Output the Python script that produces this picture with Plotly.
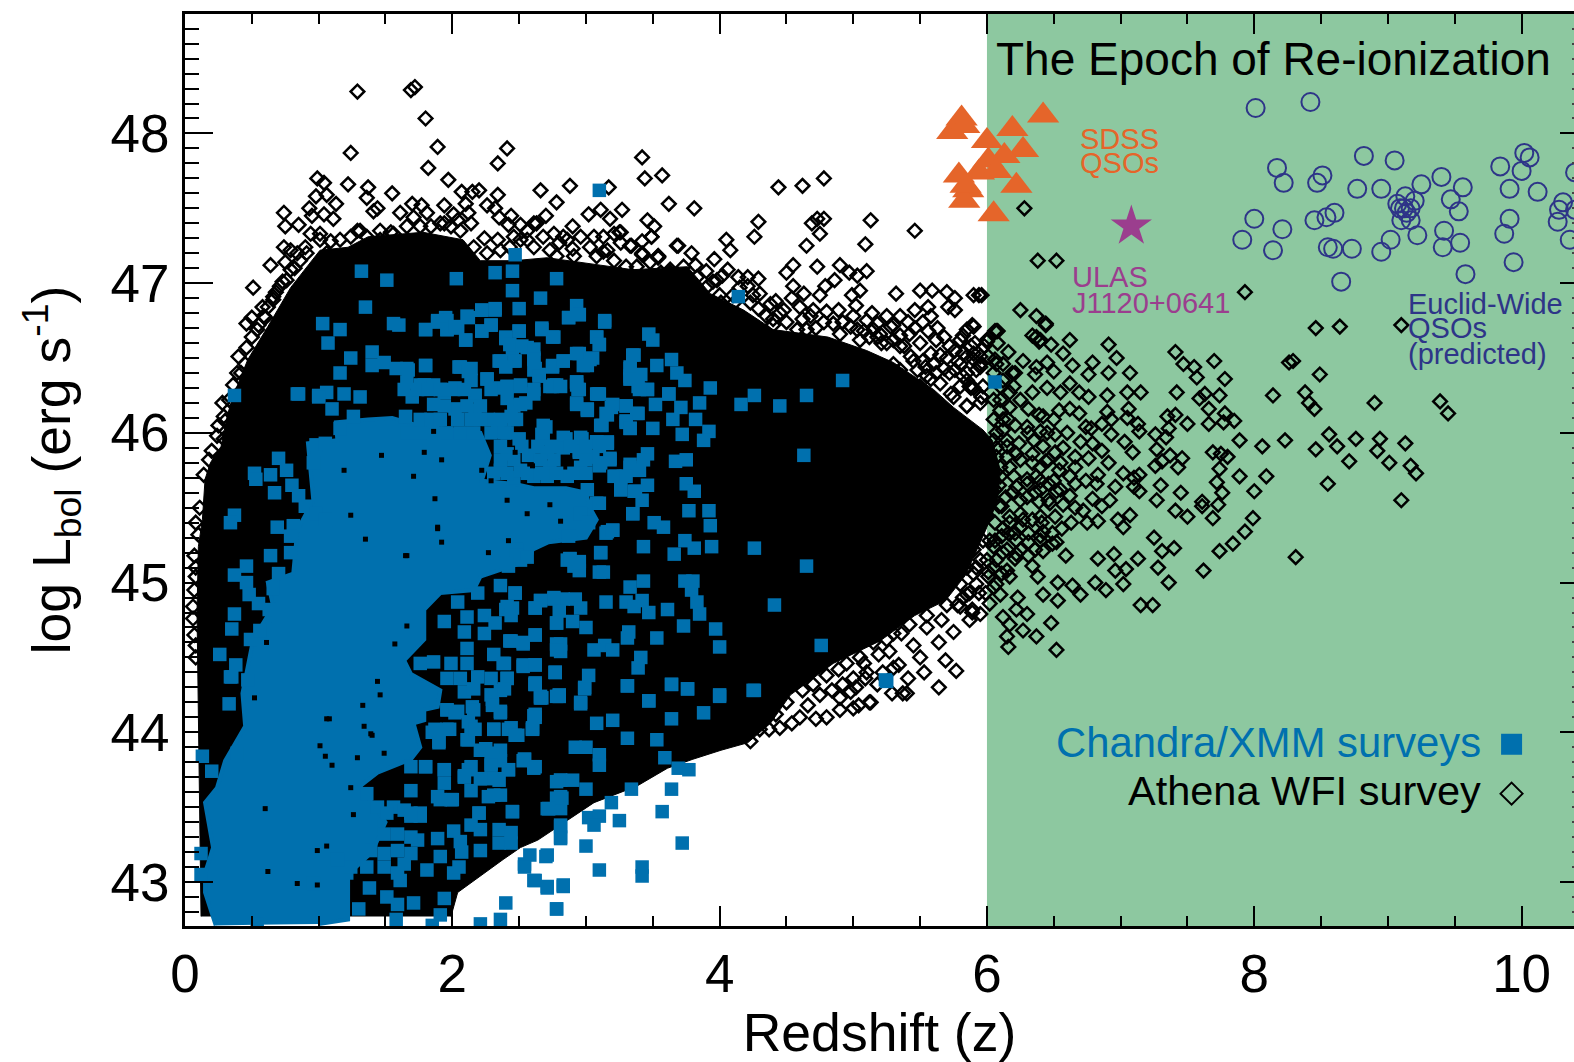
import plotly.graph_objects as go

FONT = "Liberation Sans"
BLUE = "#0070AE"
GREEN = "#8DC8A0"
ORANGE = "#E5652A"
PURPLE = "#9B3E8E"
NAVY = "#2E3588"

# outline of the saturated black part of the Athena WFI cloud (z, log L)
athena_core_z = [0.12,0.10,0.09,0.10,0.13,0.15,0.19,0.27,0.32,0.38,0.47,0.62,0.79,1.01,1.22,1.37,1.78,2.08,2.21,2.46,2.71,3.11,3.35,3.76,3.93,4.18,4.40,4.81,5.10,5.30,5.60,5.75,5.97,6.04,6.10,6.08,5.99,5.84,5.69,5.46,5.20,4.85,4.53,4.38,4.21,4.01,3.80,3.61,3.38,3.06,2.86,2.64,2.51,2.38,2.04,1.99]
athena_core_L = [42.77,44.35,44.80,45.24,45.42,45.69,45.80,45.91,46.13,46.29,46.49,46.71,46.97,47.22,47.24,47.31,47.34,47.29,47.15,47.15,47.17,47.12,47.09,47.11,46.93,46.82,46.69,46.64,46.55,46.47,46.29,46.17,46.02,45.95,45.75,45.55,45.35,45.05,44.88,44.78,44.61,44.46,44.25,44.06,43.93,43.88,43.82,43.76,43.64,43.53,43.41,43.28,43.23,43.15,42.93,42.77]

# outline of the area where Chandra/XMM squares merge
chandra_core_z = [0.23,0.15,0.15,0.21,0.15,0.24,0.30,0.45,0.43,0.51,0.66,0.62,0.81,0.84,0.96,0.92,1.14,1.13,1.37,1.55,1.74,2.21,2.28,2.22,2.46,2.61,2.85,3.00,3.03,3.08,3.00,2.72,2.60,2.58,2.21,2.16,1.91,1.79,1.79,1.64,1.69,1.91,1.89,1.79,1.79,1.71,1.76,1.69,1.44,1.31,1.50,1.40,1.22,1.22,1.00]
chandra_core_L = [42.71,42.93,43.06,43.23,43.53,43.63,43.81,44.04,44.26,44.62,44.84,45.00,45.06,45.35,45.55,45.93,45.95,46.07,46.09,46.10,46.05,46.00,45.85,45.68,45.66,45.63,45.63,45.60,45.50,45.42,45.30,45.27,45.22,45.15,45.04,44.95,44.93,44.82,44.62,44.48,44.39,44.28,44.17,44.15,44.08,44.06,43.90,43.82,43.73,43.64,43.40,43.20,43.05,42.75,42.72]

athena_points = [
(8.46,46.70),(8.64,46.71),(9.10,46.72),(7.41,46.54),(7.47,46.46),(7.55,46.44),(7.57,46.37),(7.70,46.48),(7.78,46.36),(8.26,46.47),(8.29,46.48),(8.49,46.39),(8.14,46.25),(8.38,46.27),(8.41,46.20),(8.45,46.16),(8.90,46.20),(9.39,46.21),(9.45,46.13),(7.42,46.27),(7.63,46.26),(7.59,46.23),(7.74,46.25),(7.66,46.16),(7.78,46.13),(7.77,46.07),(7.85,46.08),(7.66,46.06),(7.50,46.06),(7.41,46.12),(7.35,46.11),(7.36,46.03),(7.34,45.97),(7.26,45.99),(7.89,45.95),(8.06,45.91),(8.23,45.95),(8.46,45.89),(8.56,45.99),(8.62,45.91),(8.76,45.96),(8.94,45.96),(9.13,45.93),(8.92,45.88),(8.71,45.81),(9.01,45.80),(9.17,45.78),(9.21,45.73),(8.55,45.66),(9.10,45.55),(8.31,45.17),(8.09,45.71),(7.89,45.71),(8.00,45.61),(7.99,45.43),(7.93,45.34),(7.84,45.26),(7.74,45.21),(7.62,45.08),(7.36,45.00),(7.28,45.10),(7.40,45.23),(7.31,45.21),(7.25,45.30),(7.24,44.85),(7.15,44.85),(7.13,45.16),(7.02,44.99),(7.04,45.09),(6.96,45.08),(6.95,45.19),(6.83,45.16),(6.81,45.00),(6.89,44.95),(6.70,44.92),(6.64,44.98),(6.53,45.00),(6.53,44.88),(6.42,44.92),(6.38,45.04),(6.48,44.73),(6.52,44.55),(6.37,44.64),(6.27,44.68),(6.15,44.64),(6.16,44.57),(6.30,44.79),(6.22,44.82),(6.23,44.90),(6.12,44.77),(6.17,44.72),(6.02,44.86),(6.59,45.18),(7.07,45.45),(6.98,45.42),(7.02,45.37),(6.83,45.41),(6.75,45.40),(6.63,45.40),(6.56,45.36),(6.92,45.55),(6.86,45.51),(7.30,45.65),(7.45,45.60),(7.27,45.55),(7.41,45.48),(7.50,45.44),(7.69,45.43),(7.61,45.54),(7.61,45.51),(7.73,45.52),(7.76,45.60),(7.72,45.67),(7.74,45.76),(7.80,45.84),(7.75,45.86),(7.69,45.87),(7.46,45.83),(7.43,45.77),(7.37,45.85),(7.31,45.81),(7.26,45.78),(7.27,45.89),(7.09,45.87),(7.03,45.94),(6.93,45.99),(6.86,45.88),(6.79,45.93),(6.70,45.94),(6.91,45.80),(7.02,45.73),(7.14,45.72),(7.10,45.70),(6.96,45.64),(7.10,45.64),(7.14,45.61),(6.83,45.72),(6.82,45.66),(7.13,46.06),(7.14,46.01),(7.06,46.16),(7.05,46.10),(6.93,46.09),(6.86,46.06),(6.90,46.14),(6.74,46.04),(6.78,46.03),(7.15,46.27),(7.05,46.27),(6.90,46.25),(6.76,46.24),(6.91,46.40),(7.07,46.40),(6.97,46.50),(6.91,46.59),(6.79,46.47),(6.62,46.62),(6.48,46.59),(6.39,46.61),(6.34,46.65),(6.44,46.72),(6.57,46.53),(6.45,46.47),(6.27,46.48),(6.16,46.54),(6.64,46.45),(6.76,46.39),(6.62,46.33),(6.50,46.41),(6.45,46.30),(6.55,46.27),(6.69,46.27),(6.34,46.27),(6.62,46.16),(6.54,46.15),(6.42,46.11),(6.69,46.13),(6.45,46.00),(6.35,45.95),(6.34,45.86),(6.57,45.90),(6.66,45.84),(6.76,45.83),(6.55,45.80),(6.66,45.77),(6.46,45.66),(6.55,45.62),(6.62,45.58),(6.79,45.56),(6.72,45.48),(6.66,45.50),(6.57,45.52),(6.47,45.53),(6.39,45.54),(6.34,45.42),(6.41,45.40),(6.31,45.33),(6.42,45.34),(6.52,45.27),(6.42,45.21),(6.31,45.18),(6.21,45.16),(6.17,45.04),(6.10,44.92),(6.15,45.08),(6.22,45.28),(6.16,45.33),(6.25,45.46),(6.22,45.64),(6.30,45.69),(6.22,45.86),(6.31,46.00),(6.16,46.09),(6.21,46.40),(6.17,46.27),
(6.05,46.22),(6.10,46.15),(6.05,46.09),(6.12,46.02),(6.05,45.95),(6.15,45.91),(6.07,45.84),(6.17,45.77),(6.10,45.71),(6.06,45.62),(6.14,45.57),(6.09,45.51),(6.17,45.44),(6.06,45.40),(6.11,45.31),(6.05,45.24),(6.12,45.20),(6.05,45.10),(6.07,44.99),(5.99,44.93),(5.95,44.79),(5.87,44.75),(5.92,44.99),(6.40,45.77),(6.46,45.82),(6.37,45.71),(6.50,45.68),(6.40,45.62),(6.30,45.57),(6.25,45.37),(6.40,45.28),(6.49,45.33),(6.25,45.22),(6.34,45.11),(6.12,46.35),(6.20,46.31),(6.07,46.46),(6.00,46.62),(6.07,46.68),(5.85,46.69),(5.90,46.71),(5.82,46.53),(5.92,46.42),(5.87,46.31),(5.96,46.24),(5.85,46.18),(5.80,46.46),
(6.28,47.50),(6.38,47.15),(6.52,47.15),(7.93,46.94),(6.25,46.82),(6.37,46.78),(6.44,46.73),(5.96,46.92),(6.08,46.68),(6.00,46.61),(6.37,46.64),(6.40,46.62),
(1.29,48.28),(1.69,48.29),(1.72,48.31),(1.80,48.10),(1.89,47.91),(1.82,47.77),(1.24,47.87),(2.41,47.90),(2.34,47.80),(1.97,47.69),(1.22,47.66),(0.99,47.70),(1.04,47.67),(0.98,47.58),(1.06,47.59),(1.13,47.53),(0.93,47.50),(0.95,47.45),(1.04,47.46),(1.11,47.43),(0.74,47.47),(0.85,47.39),(0.75,47.38),(0.94,47.33),(1.37,47.64),(1.36,47.57),(1.55,47.60),(1.44,47.50),(1.41,47.48),(1.61,47.47),(1.70,47.53),(1.77,47.52),(1.81,47.47),(1.94,47.52),(2.07,47.61),(2.15,47.61),(2.20,47.62),(2.10,47.53),(2.12,47.47),(2.14,47.40),(2.01,47.46),(1.94,47.40),(2.34,47.59),(2.26,47.52),(2.32,47.50),(2.35,47.44),(2.44,47.45),(2.42,47.39),(2.66,47.62),(2.88,47.65),(2.78,47.54),(2.70,47.45),(2.61,47.40),(2.51,47.39),(3.17,47.64),(3.42,47.84),(3.44,47.70),(3.57,47.72),(3.62,47.53),(3.02,47.46),(3.11,47.49),(3.18,47.43),(3.27,47.49),(3.46,47.42),(3.51,47.38),(3.49,47.31),(3.42,47.28),(3.34,47.25),(3.68,47.25),(3.54,47.18),(3.42,47.20),(3.48,47.14),(3.25,47.34),(2.90,47.38),(2.76,47.33),(2.83,47.31),(3.06,47.31),(3.13,47.21),(3.30,47.11),(2.80,47.27),(2.90,47.23),(1.46,47.35),(1.31,47.35),(1.54,47.34),(1.16,47.29),(2.24,47.30),(2.34,47.29),(2.43,47.24),(2.56,47.29),(0.64,47.12),(0.51,46.97),(0.73,47.01),(0.74,47.24),(0.84,47.20),(0.79,47.22),(0.75,47.14),(0.58,46.84),(0.46,46.73),(0.50,46.77),(0.60,46.77),(0.66,46.89),(0.40,46.51),(0.39,46.40),(0.54,46.69),
(0.28,46.20),(0.29,46.11),(0.25,46.05),(0.29,45.96),(0.10,45.32),(0.08,45.04),(0.06,44.84),(0.06,44.76),(0.08,44.58),
(3.81,47.50),(4.44,47.64),(4.62,47.65),(4.78,47.70),(4.29,47.41),(4.26,47.31),(5.13,47.42),(5.09,47.26),(5.46,47.35),(4.73,47.43),(4.69,47.40),(4.78,47.43),(4.75,47.33),(4.65,47.25),(4.05,47.29),(4.08,47.22),(3.69,47.25),(3.79,47.20),(3.54,47.18),(3.49,47.31),(3.96,47.16),(4.06,47.09),(3.95,47.01),(4.00,46.92),(4.21,47.04),(4.29,47.03),(4.14,47.04),(4.73,47.11),(4.55,47.12),(4.50,47.07),(4.90,47.12),(4.97,47.07),(5.10,47.08),(5.03,47.05),(4.86,47.02),(4.79,46.98),(4.55,46.98),(4.63,46.93),(4.54,46.90),(4.75,46.92),(5.05,46.95),(4.99,46.92),(5.32,46.93),(5.50,46.95),(5.59,46.95),(5.70,46.94),(5.76,46.90),(5.90,46.92),(5.94,46.92),(5.71,46.84),(5.76,46.82),(5.46,46.82),(5.56,46.84),(5.58,46.78),(4.42,46.88),(4.30,46.93),(4.29,46.83),(4.40,46.76),(4.80,46.81),(4.89,46.82),(5.02,46.85),(5.14,46.80),(5.25,46.78),(5.35,46.78),(5.41,46.74),(5.28,46.71),(5.10,46.75),(4.98,46.71),(5.63,46.70),(5.56,46.68),(5.68,46.64),(5.89,46.72),(5.82,46.65),(6.00,46.62),(6.06,46.68),(5.35,46.65),(5.50,46.60),(5.21,46.60),(5.76,46.55),(5.70,46.50),(5.58,46.53),(5.88,46.58),(5.95,46.44),(5.85,46.51),(5.68,46.43),(5.54,46.44),(5.76,46.42),(5.35,46.42),(5.58,46.36),(5.96,46.24),(5.85,46.18),(5.88,46.30),(5.73,46.26),(6.06,46.49),
(5.29,44.26),(5.12,44.20),(5.27,44.54),(5.19,44.52),(5.08,44.46),(5.00,44.36),(4.89,44.42),(5.09,44.36),(5.18,44.32),(4.98,44.27),(4.84,44.28),(4.75,44.25),(4.90,44.23),(5.04,44.18),(5.40,44.26),(5.13,44.20),(5.00,44.16),(4.90,44.15),(4.80,44.10),(4.72,44.09),(4.54,44.06),(4.45,44.03),(4.37,44.02),(4.23,43.94),
(5.77,44.41),(5.69,44.48),(5.53,44.40),(5.64,44.30),(5.41,44.36),(5.37,44.26),(5.50,44.50),(5.30,44.43),(5.89,44.80),(5.75,44.67),(5.64,44.60),(5.94,44.93),(6.01,45.07),
]

# dense fringe just outside the black outline
athena_fringe = [
(1.01,47.29),(1.09,47.28),(1.24,47.31),(1.29,47.35),(1.36,47.31),(1.46,47.29),(1.56,47.33),(1.66,47.38),(1.71,47.44),(1.76,47.38),(1.84,47.38),(1.91,47.40),(1.99,47.38),(2.06,47.35),(2.04,47.42),(2.16,47.24),(2.26,47.20),(2.36,47.22),(2.46,47.31),(2.56,47.35),(2.51,47.29),(2.63,47.40),(2.68,47.31),(2.61,47.24),(2.73,47.22),(2.78,47.18),(2.86,47.29),(2.96,47.31),(2.91,47.18),(3.03,47.24),(3.13,47.31),(3.08,47.18),(3.21,47.15),(3.26,47.27),(3.38,47.11),(3.56,47.07),(3.63,47.07),(3.68,47.02),(3.46,46.95),(3.53,46.95),(1.01,47.33),(1.06,47.20),(0.91,47.20),(0.86,47.15),(0.79,47.09),(0.71,46.98),(0.76,47.02),(0.66,46.91),(0.59,46.78),(0.50,46.64),(0.46,46.57),
(3.21,47.33),(3.26,47.34),(3.16,47.22),(3.33,47.25),(3.42,47.19),(3.54,47.17),(3.63,47.09),(3.73,47.11),(3.82,47.12),(3.83,47.04),(3.73,47.02),(3.91,46.98),(3.88,46.89),(4.01,46.87),(4.11,46.87),(4.21,46.98),(4.23,46.87),(4.35,46.78),(4.48,46.82),(4.58,46.69),(4.65,46.69),(4.70,46.82),(4.85,46.73),(4.90,46.66),(5.03,46.69),(5.15,46.69),(5.18,46.73),(5.25,46.60),(5.35,46.58),(5.43,46.51),(5.30,46.46),(5.48,46.42),(5.65,46.33),(5.50,46.31),(5.85,46.35),(5.75,46.24),(5.98,46.58),(5.95,46.51),(5.90,46.49),(6.08,46.60),
(4.92,44.32),(5.02,44.30),(5.10,44.40),(5.22,44.40),(5.34,44.45),(5.25,44.62),(5.36,44.66),(5.45,44.58),(5.55,44.70),(5.66,44.75),(5.78,44.85),(5.85,44.92),(5.92,45.10),(6.00,45.15),(6.02,45.28),(6.00,45.45),
(6.10,46.22),(6.17,46.17),(6.25,46.22),(6.31,46.16),(6.39,46.12),(6.50,46.09),(6.12,46.09),(6.21,46.05),(6.30,46.04),(6.40,46.01),(6.51,45.99),(6.60,46.00),(6.07,46.00),(6.15,45.95),(6.24,45.93),(6.42,45.91),(6.51,45.87),(6.07,45.90),(6.15,45.84),(6.25,45.82),(6.34,45.80),(6.44,45.81),(6.54,45.75),(6.62,45.71),(6.10,45.77),(6.20,45.71),(6.30,45.66),(6.40,45.68),(6.66,45.66),(6.74,45.68),(6.09,45.65),(6.19,45.60),(6.25,45.55),(6.36,45.60),(6.46,45.55),(6.52,45.61),(6.11,45.51),(6.17,45.40),(6.27,45.42),(6.40,45.44),(6.51,45.44),(6.12,45.36),(6.21,45.33),(6.31,45.27),(6.40,45.31),(6.49,45.26),(6.06,45.28),(6.15,45.22),(6.22,45.19),(6.36,45.22),(6.07,45.15),(6.01,45.04),(6.11,45.06),(6.05,44.97),
(5.95,45.15),(5.90,45.06),(5.97,45.28),(5.90,45.22),(5.85,45.10),(5.80,44.99),(5.87,44.93),(5.80,44.84),(5.89,44.82),
(6.01,46.51),(6.12,46.46),(6.19,46.40),(6.05,46.40),(6.10,46.31),(6.37,46.44),(6.36,46.39),(5.90,46.53),(5.95,46.46),(5.85,46.40),(5.97,46.31),(5.80,46.31),(5.91,46.60),
(4.40,46.72),(4.50,46.74),(4.62,46.76),(4.72,46.70),(4.78,46.74),(4.92,46.74),(5.00,46.78),(5.08,46.68),(5.12,46.64),(5.20,46.66),(5.30,46.62),(5.38,46.58),(5.45,46.48),(5.52,46.48),(5.60,46.46),(5.65,46.52),(5.72,46.40),(5.78,46.48),(5.82,46.38),(5.90,46.30),(5.95,46.20),(5.62,46.40),(5.55,46.38),(5.46,46.70),(5.52,46.74),(5.62,46.62),(5.72,46.58),(5.80,46.62),(5.30,46.72),(5.42,46.66),(5.18,46.64),(5.05,46.62),(4.60,46.84),(4.68,46.78),(4.45,46.80),(4.38,46.86),(4.25,46.92),(4.15,46.97),(4.10,46.92),(3.98,47.02),(4.02,47.05),(3.90,47.08),
(0.42,46.40),(0.45,46.46),(0.36,46.32),(0.33,46.22),(0.30,46.08),(0.24,45.98),(0.20,45.88),(0.18,45.82),(0.14,45.72),(0.11,45.50),(0.08,45.40),(0.07,45.18),(0.08,45.10),(0.07,44.95),(0.07,44.65),(0.08,44.50),(0.55,46.72),(0.68,46.94),(0.82,47.10),(0.90,47.24),(0.62,46.84),
(4.30,44.02),(4.42,44.12),(4.50,44.20),(4.62,44.28),(4.70,44.32),(4.80,44.38),(4.95,44.46),(5.05,44.50),(5.15,44.60),(5.30,44.66),(5.42,44.72),(5.55,44.78),(5.70,44.85),(5.82,44.90),(4.60,44.10),(4.66,44.18),
]

chandra_points = [
(4.92,46.35),(4.65,46.25),(4.45,46.18),(4.26,46.25),(4.16,46.19),(3.93,46.30),(3.62,46.26),(3.74,46.35),(3.46,46.29),(3.39,46.31),(3.33,46.38),(3.10,46.26),(2.95,46.29),(2.93,46.34),(2.78,46.32),(2.73,46.31),(3.85,46.20),(3.52,46.19),(3.30,46.18),(3.20,46.19),(3.15,46.13),(2.93,46.20),(3.01,46.15),(3.71,46.17),(3.39,46.13),(3.65,46.09),(3.82,46.09),(3.30,46.08),(3.33,46.03),(3.50,46.03),(3.11,46.05),(3.72,45.99),(3.92,46.01),(3.88,45.95),(2.68,46.05),(2.67,45.99),(2.85,45.96),(2.96,45.97),(3.08,45.94),(3.16,45.94),(2.95,45.87),(3.05,45.84),(3.11,45.80),(3.18,45.83),(3.46,45.86),(3.33,45.79),(3.43,45.82),(3.40,45.75),(3.67,45.81),(3.75,45.82),(3.21,45.71),(3.28,45.71),(4.63,45.85),(3.75,45.66),(3.81,45.61),(3.46,45.65),(3.37,45.61),(3.42,45.55),(3.26,45.62),(3.77,45.48),(3.92,45.48),(3.93,45.38),(3.35,45.46),(3.51,45.40),(3.58,45.37),(3.20,45.35),(3.15,45.33),(3.08,45.53),(3.01,45.62),(2.96,45.46),(3.02,45.40),(2.87,45.31),(3.74,45.28),(3.81,45.23),(3.94,45.24),(3.66,45.19),(3.43,45.24),(4.26,45.23),(4.65,45.11),(3.11,45.20),(2.88,45.16),(2.95,45.08),(2.95,45.14),(3.10,45.07),(3.13,45.07),(3.43,45.01),(3.33,44.97),(3.74,45.01),(3.80,45.01),(3.79,44.95),(3.83,44.87),(3.85,44.79),(3.42,44.88),(3.30,44.87),(3.36,44.84),(3.47,44.80),(3.61,44.82),(4.41,44.85),(3.15,44.87),(2.92,44.89),(2.83,44.89),(2.76,44.89),(2.66,44.88),(2.62,44.83),(2.96,44.83),(2.80,44.81),(2.78,44.73),(2.90,44.74),(3.00,44.70),(3.73,44.71),(3.97,44.69),(3.32,44.67),(3.31,44.63),(3.53,44.63),(4.00,44.57),(4.76,44.58),(2.62,44.65),(2.43,44.61),(2.53,44.59),(2.81,44.59),(2.81,44.54),(3.14,44.58),(3.06,44.55),(3.20,44.55),(3.41,44.50),(3.39,44.43),(2.53,44.45),(2.62,44.45),(2.77,44.40),(2.38,44.46),(3.02,44.38),(2.41,44.36),(2.62,44.32),(2.99,44.30),(3.31,44.31),(3.64,44.32),(3.76,44.29),(4.26,44.28),(4.00,44.24),(2.80,44.24),(2.66,44.23),(3.47,44.21),(2.96,44.20),(5.25,44.34),(2.36,44.28),
(2.48,45.22),(2.51,45.15),(2.42,45.11),(2.47,44.93),(2.40,44.82),(2.45,44.83),(2.41,46.31),(2.51,46.31),(2.61,46.29),(2.65,46.39),(2.46,46.18),(2.55,46.20),(2.48,46.09),(2.41,46.00),
(3.10,47.62),(2.47,47.19),(1.32,47.08),(1.51,47.02),(2.03,47.03),(2.32,47.07),(2.45,47.08),(2.78,47.03),(2.45,46.95),(2.66,46.90),(2.50,46.83),(2.93,46.85),(2.95,46.79),(2.87,46.77),(3.14,46.74),(1.35,46.84),(2.32,46.83),(2.22,46.82),(2.12,46.77),(1.95,46.77),(1.89,46.74),(1.80,46.69),(1.96,46.69),(2.04,46.70),(2.29,46.72),(2.22,46.68),(1.03,46.73),(1.16,46.69),(1.56,46.73),(1.60,46.72),(1.07,46.60),(2.10,46.62),(2.50,46.68),(2.67,46.69),(2.75,46.64),(3.08,46.64),(3.10,46.59),(3.47,46.66),(3.50,46.62),(2.40,46.64),(2.45,46.56),(2.56,46.57),(2.93,46.53),(1.24,46.50),(1.40,46.54),(1.40,46.45),(1.49,46.47),(1.58,46.43),(1.80,46.45),(1.16,46.40),(2.46,46.48),(2.35,46.48),(2.61,46.50),(2.62,46.43),(2.75,46.45),(2.83,46.48),(3.01,46.45),(3.05,46.50),(2.06,46.44),(2.14,46.43),(1.66,46.43),(3.36,46.52),(3.33,46.43),(3.33,46.36),(3.41,46.39),(3.53,46.45),(3.64,46.49),(3.68,46.40),(0.37,46.25),(0.85,46.26),(1.00,46.25),(1.06,46.27),(1.19,46.26),(1.31,46.24),(2.65,46.38),(2.76,46.32),(2.93,46.32),(3.08,46.26),(3.46,46.29),(3.62,46.26),(2.17,46.25),(2.26,46.36),(2.36,46.30),(1.91,46.29),(1.76,46.32),
(4.14,46.91),(6.06,46.34),
(0.37,45.45),(0.34,45.40),(0.52,45.73),(0.53,45.69),(0.70,45.83),(0.76,45.75),(0.64,45.72),(0.67,45.60),(0.80,45.65),(0.85,45.58),(0.90,45.51),(0.98,45.46),(1.05,45.42),(0.96,45.80),(0.69,45.37),(0.81,45.38),(0.79,45.31),(0.64,45.18),(0.79,45.20),(0.46,45.11),(0.37,45.05),(0.46,45.00),(0.48,44.92),(0.55,44.86),(0.63,44.82),(0.70,45.06),(0.66,44.96),(0.70,44.78),(0.37,44.79),(0.35,44.69),(0.26,44.52),(0.38,44.45),(0.34,44.37),(0.49,44.62),(0.56,44.68),(0.98,45.92),(1.05,45.93),(1.26,46.11),(1.16,46.03),(1.10,46.16),(1.00,46.24),(0.84,46.26),
(2.86,45.15),(2.91,45.11),(2.48,45.18),(2.41,45.13),(2.56,45.17),
(2.77,44.40),(2.62,44.33),(2.67,44.23),(2.80,44.24),(2.62,44.12),(2.60,44.02),(2.15,44.17),(2.36,44.14),(2.30,44.22),(1.96,44.15),(2.04,44.14),(2.14,44.04),(1.85,44.00),(1.98,44.02),(1.90,43.94),(2.31,44.02),(2.44,44.03),(2.49,43.98),(2.11,43.95),(2.25,43.89),(2.36,43.88),(1.80,43.77),(1.94,43.75),(1.69,43.77),(2.12,43.75),(2.42,43.75),(2.54,43.82),(2.62,43.77),(2.29,43.79),(2.09,43.70),(2.24,43.69),(2.35,43.68),(2.81,43.68),(2.82,43.56),(2.71,43.49),(2.45,43.47),(2.20,43.46),(2.14,43.38),(1.89,43.57),(2.00,43.55),(2.31,43.58),(1.76,43.44),(1.74,43.28),(1.89,43.29),(2.01,43.34),(2.06,43.27),(2.21,43.35),(2.21,43.21),(2.35,43.35),(2.44,43.33),(2.35,43.26),(2.44,43.26),(2.81,43.37),(2.81,43.30),(2.07,43.20),(1.91,43.17),(1.81,43.08),(2.01,43.06),(2.05,43.10),(1.64,43.12),(1.61,43.01),(1.38,42.96),(1.51,42.90),(1.59,42.85),(1.71,42.86),(1.58,42.75),(1.30,42.82),(1.94,42.89),(1.91,42.78),(2.40,42.86),(2.78,42.82),(2.54,43.12),(2.70,43.17),(2.61,43.01),(2.71,42.97),(2.83,42.97),(2.21,42.72),(2.36,42.75),(1.85,42.71),(0.13,43.84),(0.12,43.19),(0.12,43.05),(0.20,43.74),(0.39,43.86),(0.33,44.19),(0.35,44.37),(0.47,44.35),(0.54,42.72),
(2.62,44.32),(2.66,44.24),(2.80,44.25),(2.99,44.29),(2.96,44.19),(3.31,44.31),(3.47,44.21),(3.64,44.32),(3.76,44.29),(4.00,44.25),(4.25,44.28),(5.24,44.35),(3.88,44.13),(3.64,44.09),(3.20,44.08),(3.08,44.06),(2.61,44.11),(2.60,44.02),(3.31,43.96),(3.53,43.95),(2.92,43.90),(3.00,43.90),(3.10,43.85),(3.10,43.78),(3.59,43.83),(2.54,43.82),(2.61,43.77),(3.69,43.76),(3.77,43.75),(2.81,43.68),(2.90,43.68),(3.00,43.62),(3.34,43.62),(3.64,43.62),(2.81,43.57),(2.81,43.49),(2.72,43.49),(3.19,43.53),(3.57,43.47),(3.02,43.43),(3.10,43.44),(3.06,43.38),(3.25,43.41),(2.81,43.38),(2.81,43.29),(3.00,43.24),(3.72,43.26),(2.58,43.18),(2.71,43.18),(2.54,43.10),(3.10,43.08),(3.42,43.10),(3.42,43.04),(2.62,43.01),(2.71,42.96),(2.83,42.98),(2.78,42.82),
]

chandra_upper = [
(1.80,46.69),(1.89,46.75),(1.96,46.75),(1.96,46.69),(2.02,46.71),(2.11,46.78),(2.10,46.62),(2.22,46.68),(2.29,46.72),(2.22,46.82),(2.32,46.82),(2.50,46.68),(2.40,46.63),(2.67,46.70),(2.76,46.64),(2.87,46.77),(2.95,46.79),(3.14,46.75),(3.08,46.64),(3.10,46.59),(2.95,46.53),(3.03,46.49),(2.98,46.45),(2.43,46.59),(2.52,46.58),(2.61,46.56),(2.61,46.49),(2.61,46.42),(2.65,46.38),(2.47,46.48),(2.36,46.48),(2.40,46.44),(2.75,46.44),(2.83,46.48),
(1.80,46.45),(1.67,46.42),(2.05,46.44),(2.12,46.41),(2.14,46.35),(2.26,46.36),(2.29,46.29),(2.41,46.31),(2.51,46.32),(2.61,46.26),(2.75,46.31),(2.81,46.31),(2.93,46.34),(2.94,46.29),(3.09,46.26),(2.93,46.19),(3.01,46.16),(3.19,46.17),(3.16,46.12),(3.12,46.05),(3.30,46.18),(3.38,46.13),(3.30,46.07),(3.33,46.03),(3.35,46.52),(3.33,46.44),(3.33,46.36),(3.40,46.29),
(1.66,46.34),(1.79,46.32),(1.86,46.32),(1.94,46.27),(2.02,46.30),(1.70,46.24),(1.86,46.19),(2.17,46.25),(2.02,46.16),(2.17,46.15),(1.65,46.11),(2.41,46.23),(2.51,46.19),(2.27,46.09),(2.44,46.11),(2.34,46.01),(2.70,46.04),(2.68,45.96),(2.83,45.97),(2.83,45.90),(2.50,45.96),(2.97,45.96),(3.16,45.93),(3.08,45.94),(2.57,45.85),(2.41,45.86),(2.71,45.87),(2.95,45.88),(3.05,45.84),(3.18,45.82),(3.10,45.78),(3.33,45.77),(3.38,45.75),(3.22,45.71),(3.30,45.71),(3.26,45.62),(3.36,45.61),(3.10,45.53),(3.35,45.46),(3.16,45.34),(3.20,45.35),(3.11,45.20),(2.88,45.16),(2.95,45.13),
(2.73,45.77),(2.96,45.77),(2.61,45.71),(2.36,45.75),(2.46,45.70),(2.86,45.71),(2.51,45.75),(2.71,45.71),
(1.64,46.29),(1.74,46.29),(1.82,46.29),(1.91,46.29),(2.01,46.29),(2.09,46.29),(1.94,46.18),(2.11,46.18),(2.21,46.18),(1.76,46.09),(1.84,46.09),(1.91,46.09),(2.04,46.09),(2.14,46.09),(2.21,46.09),(2.36,46.09),(2.46,46.09),(1.66,46.00),(1.76,46.00),(1.96,46.00),(2.06,46.00),(2.16,46.00),(2.29,46.00),(2.39,46.00),(2.36,45.91),(2.52,45.91),(2.64,45.91),(2.74,45.91),(2.88,45.91),(3.00,45.91),(3.10,45.91),(2.36,45.82),(2.46,45.82),(2.66,45.82),(2.76,45.82),(3.00,45.82),(2.31,45.73),(2.41,45.73),(2.56,45.73),(2.66,45.73),(2.78,45.73),(2.91,45.73),(3.00,45.73),
]

chandra_lower = [
(2.04,44.87),(2.19,44.93),(2.36,44.98),(2.47,44.93),(2.66,44.88),(2.62,44.83),(2.76,44.90),(1.94,44.74),(2.11,44.77),(2.24,44.78),(2.32,44.73),(2.41,44.84),(2.44,44.78),(2.09,44.67),(2.24,44.66),(2.44,44.61),(2.53,44.60),(2.62,44.65),(2.78,44.73),(2.11,44.56),(2.31,44.52),(2.39,44.46),(2.53,44.44),(2.62,44.45),(2.78,44.59),(2.78,44.55),(2.77,44.40),(1.76,44.46),(1.86,44.47),(1.99,44.46),(2.11,44.46),(1.96,44.36),(2.06,44.36),(2.19,44.37),(2.29,44.36),(2.41,44.36),(2.09,44.27),(2.16,44.29),(2.29,44.25),(2.39,44.29),(2.62,44.32),(2.66,44.23),(2.78,44.24),(2.30,44.18),(2.36,44.13),(1.96,44.15),(2.02,44.13),(2.16,44.15),(2.12,44.07),(2.62,44.10),(2.60,44.03),(1.87,44.02),(1.96,44.02),(1.90,43.93),(2.12,43.95),(2.17,44.02),(2.31,44.02),(2.42,44.02),(2.47,43.98),(2.21,43.88),(2.30,43.86),(2.36,43.81),(2.53,43.81),(2.61,43.76),(1.80,43.77),(1.94,43.75),(2.14,43.77),(2.09,43.71),(2.29,43.78),(2.42,43.75),(2.21,43.69),(2.34,43.69),(2.14,43.61),(2.27,43.57),(2.36,43.58),(2.78,43.67),(2.78,43.56),(2.72,43.49),(1.91,43.55),(1.99,43.55),(1.94,43.66),(1.69,43.61),(1.56,43.50),(1.69,43.46),(1.76,43.46),(2.20,43.46),(2.45,43.47),
(1.36,43.59),(1.44,43.50),(1.51,43.46),(1.64,43.48),(1.69,43.44),(1.39,43.37),(1.49,43.32),(1.59,43.32),(1.69,43.30),(1.39,43.21),(1.49,43.19),(1.59,43.21),(1.69,43.19),(1.36,43.10),(1.49,43.10),(1.59,43.06),(1.21,43.06),(1.01,43.06),(1.24,43.10),(1.14,43.15),(0.96,42.99),
]

# little black gaps left between the merged squares
chandra_gaps = [
(1.66,44.71),(1.57,44.59),(1.44,44.34),(1.46,44.25),(1.33,44.18),(1.08,44.09),(1.34,44.04),(1.40,43.98),(1.01,43.91),(1.05,43.84),(1.29,43.83),(1.10,43.78),(1.49,43.86),
(1.86,46.01),(1.79,45.87),(1.92,45.82),(1.71,45.71),(1.87,45.56),(1.89,45.37),(1.92,45.27),(1.66,45.18),(2.27,45.20),(2.42,45.28),(2.56,45.46),(2.81,45.41),(2.73,45.52),(2.41,45.55),(2.29,45.68),(2.22,45.75),(2.60,45.78),(2.47,45.87),
(1.35,45.29),(1.65,45.18),(1.89,45.36),(1.24,45.45),(1.47,45.85),(1.19,45.75),(0.61,44.60),
(0.52,44.23),(0.60,43.49),(0.62,43.07),(0.84,42.99),(1.24,43.63),(1.26,43.45),(0.99,43.21),(1.06,43.24),(1.54,43.39),(1.39,43.99),(1.06,44.09),(0.99,42.98),
]

sdss_points = [(5.81,48.10),(5.74,48.01),(5.83,48.05),(6.00,47.95),(6.19,48.03),(6.42,48.12),(6.27,47.89),(6.13,47.85),(5.79,47.72),(6.01,47.82),(5.94,47.74),(6.07,47.75),(6.22,47.65),(5.86,47.62),(5.83,47.55),(5.84,47.65),(6.05,47.46)]

euclid_points = [(8.01,48.17),(8.42,48.21),(8.82,47.85),(9.05,47.82),(8.17,47.77),(8.22,47.67),(8.51,47.72),(8.47,47.67),(8.77,47.63),(8.95,47.63),(9.25,47.66),(9.40,47.71),(9.56,47.64),(9.47,47.56),(9.53,47.48),(9.84,47.78),(10.02,47.87),(10.06,47.84),(10.00,47.75),(9.91,47.63),(10.12,47.61),(9.91,47.43),(9.87,47.33),(9.94,47.14),(9.58,47.06),(9.54,47.27),(9.42,47.35),(9.41,47.24),(9.22,47.32),(9.02,47.29),(8.95,47.21),(8.73,47.23),(8.59,47.23),(8.55,47.24),(8.65,47.01),(8.00,47.43),(8.21,47.36),(8.14,47.22),(7.91,47.29),(8.45,47.42),(8.54,47.44),(8.60,47.47),(9.13,47.58),(9.20,47.55),(9.07,47.53),(9.12,47.50),(9.09,47.50),(9.17,47.50),(9.10,47.42),(9.17,47.42),(9.14,47.47),(10.31,47.54),(10.28,47.49),(10.27,47.41),(10.36,47.29),(10.40,47.74),(10.40,47.49)]

ulas_z, ulas_L = [7.08], [47.38]
x_range = [0, 10.392]
y_range = [42.706, 48.798]
x_ticks = [0, 2, 4, 6, 8, 10]
y_ticks = [43, 44, 45, 46, 47, 48]
epoch_start = 6.0

def xs(points): return [p[0] for p in points]
def ys(points): return [p[1] for p in points]

all_diamonds = athena_points + athena_fringe
all_squares = chandra_points + chandra_upper + chandra_lower

fig = go.Figure()
fig.add_trace(go.Scatter(x=athena_core_z, y=athena_core_L, mode="lines", fill="toself",
                         fillcolor="black", line=dict(color="black", width=1), hoverinfo="skip"))
fig.add_trace(go.Scatter(x=xs(all_diamonds), y=ys(all_diamonds), mode="markers",
                         marker=dict(symbol="diamond-open", size=10.5, color="black", line=dict(width=2.5, color="black"))))
fig.add_trace(go.Scatter(x=chandra_core_z, y=chandra_core_L, mode="lines", fill="toself",
                         fillcolor=BLUE, line=dict(color=BLUE, width=4), hoverinfo="skip"))
fig.add_trace(go.Scatter(x=xs(all_squares), y=ys(all_squares), mode="markers",
                         marker=dict(symbol="square", size=13.5, color=BLUE, line=dict(width=0))))
fig.add_trace(go.Scatter(x=xs(chandra_gaps), y=ys(chandra_gaps), mode="markers", hoverinfo="skip",
                         marker=dict(symbol="square", size=5, color="black", line=dict(width=0))))
fig.add_trace(go.Scatter(x=xs(sdss_points), y=ys(sdss_points), mode="markers",
                         marker=dict(symbol="triangle-up", size=28, color=ORANGE, line=dict(width=0))))
fig.add_trace(go.Scatter(x=ulas_z, y=ulas_L, mode="markers",
                         marker=dict(symbol="star", size=31, color=PURPLE, line=dict(width=0))))
fig.add_trace(go.Scatter(x=xs(euclid_points), y=ys(euclid_points), mode="markers",
                         marker=dict(symbol="circle-open", size=18, color=NAVY, line=dict(width=2, color=NAVY))))
# legend keys
fig.add_trace(go.Scatter(x=[9.925], y=[43.92], mode="markers",
                         marker=dict(symbol="square", size=21, color=BLUE, line=dict(width=0))))
fig.add_trace(go.Scatter(x=[9.925], y=[43.59], mode="markers",
                         marker=dict(symbol="diamond-open", size=17, color="black", line=dict(width=2, color="black"))))
# carries the right-hand ticks
fig.add_trace(go.Scatter(x=[None], y=[None], yaxis="y2", mode="markers", hoverinfo="skip"))


def note(text, z, logl, size, color, anchor="left"):
    fig.add_annotation(x=z, y=logl, text=text, showarrow=False, xanchor=anchor, yanchor="middle",
                       font=dict(family=FONT, size=size, color=color))


note("The Epoch of Re-ionization", 6.05, 48.50, 46, "black")
note("SDSS", 6.68, 47.96, 29, ORANGE)
note("QSOs", 6.68, 47.80, 29, ORANGE)
note("ULAS", 6.62, 47.04, 29, PURPLE)
note("J1120+0641", 6.62, 46.87, 29, PURPLE)
note("Euclid-Wide", 9.135, 46.86, 29, NAVY)
note("QSOs", 9.135, 46.70, 29, NAVY)
note("(predicted)", 9.135, 46.53, 29, NAVY)
note("Chandra/XMM surveys", 9.71, 43.93, 41.8, BLUE, "right")
note("Athena WFI survey", 9.71, 43.61, 41.5, "black", "right")

fig.update_layout(
    width=1574, height=1062, showlegend=False,
    margin=dict(l=185, r=0, t=14, b=136, pad=0),
    paper_bgcolor="white", plot_bgcolor="white",
    font=dict(family=FONT, color="black"),
    shapes=[dict(type="rect", layer="below", xref="x", yref="paper", x0=epoch_start, x1=x_range[1],
                 y0=0, y1=1, fillcolor=GREEN, line=dict(width=0))],
    xaxis=dict(range=x_range, tickvals=x_ticks, ticktext=[str(t) for t in x_ticks], ticks="inside",
               ticklen=20, tickwidth=2, tickcolor="black", showgrid=False, zeroline=False,
               showline=True, linewidth=2.5, linecolor="black", mirror="ticks",
               tickfont=dict(family=FONT, size=53), ticklabelstandoff=0,
               minor=dict(dtick=0.5, tick0=0, ticks="inside", ticklen=10, tickwidth=2, tickcolor="black", showgrid=False),
               title=dict(text="Redshift (z)", font=dict(family=FONT, size=53.5), standoff=6)),
    yaxis=dict(range=y_range, tickvals=y_ticks, ticktext=[str(t) for t in y_ticks], ticks="inside",
               ticklen=28, tickwidth=2, tickcolor="black", showgrid=False, zeroline=False,
               showline=True, linewidth=3, linecolor="black",
               tickfont=dict(family=FONT, size=53), ticklabelstandoff=2,
               minor=dict(dtick=0.1, tick0=43, ticks="inside", ticklen=14, tickwidth=2, tickcolor="black", showgrid=False),
               title=dict(text="log L<sub>bol</sub> (erg s<sup>-1</sup>)", font=dict(family=FONT, size=53.5), standoff=23)),
    yaxis2=dict(range=y_range, overlaying="y", side="right", tickvals=y_ticks, showticklabels=False,
                ticks="inside", ticklen=14, tickwidth=2, tickcolor="black", showgrid=False, zeroline=False,
                showline=False,
                minor=dict(dtick=0.1, tick0=43, ticks="inside", ticklen=2, tickwidth=2, tickcolor="#444444", showgrid=False)),
)
fig.write_html("out.html", config=dict(displayModeBar=False),
               post_script="document.body.style.margin='0';document.body.style.overflow='hidden';")
